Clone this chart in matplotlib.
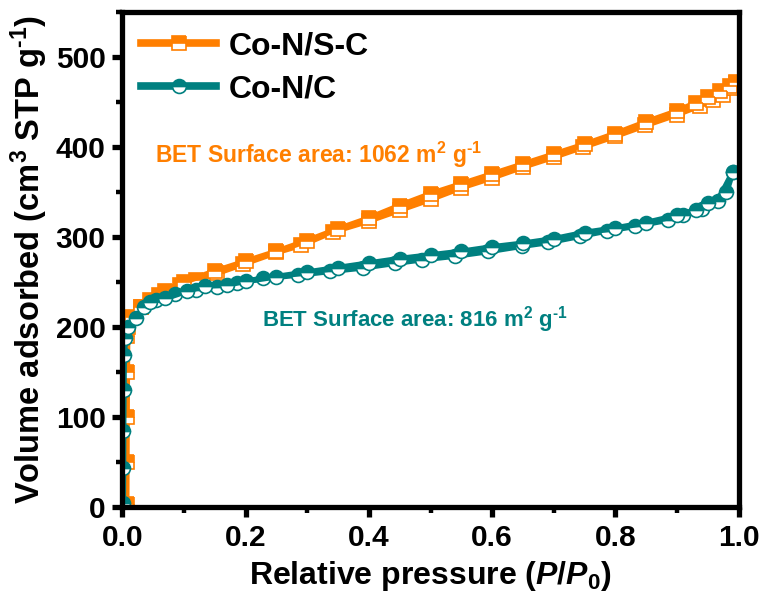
import numpy as np
import matplotlib
matplotlib.use("Agg")
import matplotlib.pyplot as plt
from matplotlib.ticker import MultipleLocator

# %% Data
# Co-N/S-C
cns_ads_x = [0.007, 0.0073, 0.0076, 0.008, 0.0085, 0.009, 0.016, 0.03, 0.045, 0.07,
             0.094, 0.12, 0.154, 0.196, 0.25, 0.29, 0.342, 0.4, 0.45, 0.5, 0.55,
             0.6, 0.65, 0.7, 0.747, 0.799, 0.848, 0.899, 0.937, 0.958, 0.974,
             0.989, 0.995]
cns_ads_y = [3, 50, 100, 150, 190, 200, 211, 222, 230, 240, 247, 252, 260, 270,
             283, 291, 306, 318, 330, 342, 355, 366, 378, 389, 400, 412, 424,
             436, 446, 452, 458, 466, 471]
cns_des_x = [0.995, 0.985, 0.97, 0.95, 0.93, 0.9, 0.85, 0.8, 0.75, 0.7, 0.65,
             0.6, 0.55, 0.5, 0.45, 0.4, 0.35, 0.3, 0.25, 0.2, 0.15, 0.1, 0.06,
             0.03]
cns_des_y = [472, 468, 462, 456, 449, 440, 428, 415, 403, 392, 381, 370, 359,
             348, 335, 321, 309, 296, 284, 273, 262, 250, 236, 222]

# Co-N/C
cn_ads_x = [0.0015, 0.0018, 0.002, 0.0025, 0.003, 0.005, 0.01, 0.023, 0.035,
            0.054, 0.086, 0.12, 0.154, 0.186, 0.228, 0.285, 0.337, 0.391, 0.442,
            0.486, 0.54, 0.593, 0.648, 0.69, 0.742, 0.786, 0.831, 0.885, 0.909,
            0.94, 0.966, 0.99]
cn_ads_y = [5, 43, 85, 130, 169, 188, 200, 210, 222, 230, 237, 241, 245, 249,
            254, 258, 262, 266, 271, 275, 279, 284, 290, 294, 301, 307, 312,
            319, 324, 331, 340, 372]
cn_des_x = [0.99, 0.98, 0.95, 0.93, 0.9, 0.85, 0.8, 0.75, 0.7, 0.65, 0.6, 0.55,
            0.5, 0.45, 0.4, 0.35, 0.3, 0.25, 0.2, 0.17, 0.134, 0.105, 0.07, 0.045]
cn_des_y = [372, 350, 338, 330, 324, 316, 310, 305, 298, 293, 289, 284, 280,
            276, 271, 266, 261, 256, 251, 247, 246, 240, 232, 228]

labels = ["Co-N/S-C", "Co-N/C"]
bet_texts = [r"BET Surface area: 1062 m$^\mathbf{2}$ g$^{\text{-1}}$",
             r"BET Surface area: 816 m$^\mathbf{2}$ g$^{\text{-1}}$"]

orange = "#FF7F00"
teal = "#008080"

# %% Style
plt.rcParams["font.family"] = ["Liberation Sans", "DejaVu Sans"]
plt.rcParams["font.weight"] = "bold"
plt.rcParams["mathtext.fontset"] = "custom"
plt.rcParams["mathtext.rm"] = "Liberation Sans:bold"
plt.rcParams["mathtext.bf"] = "Liberation Sans:bold"
plt.rcParams["mathtext.it"] = "Liberation Sans:bold:italic"
plt.rcParams["mathtext.bfit"] = "Liberation Sans:bold:italic"

fig = plt.figure(figsize=(7.64, 6.03), dpi=100)
ax = fig.add_axes([0.160, 0.159, 0.807, 0.821])

line_kw = dict(linewidth=4.2, markersize=10, markeredgewidth=1.2,
               fillstyle="top", markerfacecoloralt="white")

ax.plot(cns_ads_x, cns_ads_y, marker="s", color=orange,
        markeredgecolor=orange, label=labels[0], **line_kw)
ax.plot(cns_des_x, cns_des_y, marker="s", color=orange,
        markeredgecolor=orange, **line_kw)
ax.plot(cn_ads_x, cn_ads_y, marker="o", color=teal,
        markeredgecolor=teal, label=labels[1], **line_kw)
ax.plot(cn_des_x, cn_des_y, marker="o", color=teal,
        markeredgecolor=teal, **line_kw)

ax.set_xlim(0, 1.0)
ax.set_ylim(0, 550)
ax.xaxis.set_major_locator(MultipleLocator(0.2))
ax.xaxis.set_minor_locator(MultipleLocator(0.1))
ax.yaxis.set_major_locator(MultipleLocator(100))
ax.yaxis.set_minor_locator(MultipleLocator(50))
ax.tick_params(which="major", direction="out", length=7, width=3.8,
               labelsize=21.5, pad=5)
ax.tick_params(which="minor", direction="out", length=4, width=3.2)
for lab in ax.get_xticklabels() + ax.get_yticklabels():
    lab.set_fontweight("bold")
for sp in ax.spines.values():
    sp.set_linewidth(3.8)

ax.set_xlabel(r"Relative pressure ($\mathbfit{P}$/$\mathbfit{P}_\mathbf{0}$)",
              fontsize=23, fontweight="bold", labelpad=5)
ax.set_ylabel(r"Volume adsorbed (cm$^\mathbf{3}$ STP g$^{\text{-1}}$)",
              fontsize=23.5, fontweight="bold", labelpad=4)

ax.text(0.053, 391, bet_texts[0], color=orange, fontsize=16.5,
        fontweight="bold", va="center")
ax.text(0.227, 208, bet_texts[1], color=teal, fontsize=16,
        fontweight="bold", va="center")

leg = ax.legend(loc="upper left", frameon=False, numpoints=1,
                handlelength=2.35, handletextpad=0.37, labelspacing=0.4,
                borderaxespad=0.2, prop={"weight": "bold", "size": 23})
for h in leg.legend_handles:
    h.set_linewidth(5.5)

fig.savefig("out.png", dpi=100)
